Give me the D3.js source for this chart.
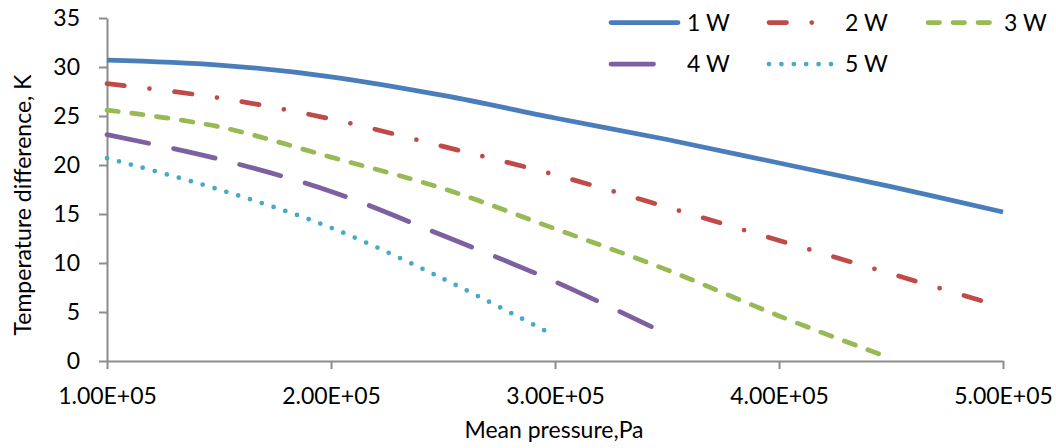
<!DOCTYPE html>
<html>
<head>
<meta charset="utf-8">
<script src="https://cdn.jsdelivr.net/npm/d3@7"></script>
<style>
  html, body { margin: 0; padding: 0; background: #fff; }
  svg { display: block; }
  text { font-family: Lato, "Open Sans", sans-serif; fill: #000; }
</style>
</head>
<body>
<svg id="chart" width="1056" height="448"></svg>
<script>
// ---- data ----
const xTicks = [1e5, 2e5, 3e5, 4e5, 5e5];
const yTicks = [0, 5, 10, 15, 20, 25, 30, 35];
const seriesNames = ["1 W", "2 W", "3 W", "4 W", "5 W"];

const p1 = [1e5, 1.5e5, 2e5, 2.5e5, 3e5, 3.5e5, 4e5, 4.5e5, 5e5];
const t1 = [30.7, 30.2, 29.0, 27.1, 24.8, 22.6, 20.2, 17.8, 15.2];

const p2 = [1e5, 1.5e5, 2e5, 2.5e5, 3e5, 3.5e5, 4e5, 4.5e5, 5e5];
const t2 = [28.3, 26.85, 24.7, 21.9, 19.0, 15.7, 12.3, 8.9, 5.5];

const p3 = [1e5, 1.5e5, 2e5, 2.5e5, 3e5, 3.5e5, 4e5, 4.46e5];
const t3 = [25.6, 23.9, 20.8, 17.6, 13.5, 9.3, 4.6, 0.6];

const p4 = [1e5, 1.5e5, 2e5, 2.5e5, 3e5, 3.43e5];
const t4 = [23.1, 20.6, 17.3, 12.8, 8.1, 3.5];

const p5 = [1e5, 1.5e5, 2e5, 2.5e5, 2.955e5];
const t5 = [20.7, 17.5, 13.6, 8.4, 3.1];

// ---- styles ----
const colors = ["#4A7EBB", "#BE4B48", "#98B954", "#7D60A0", "#46AAC5"];
const dashes = [null, "17.5 25.25 0 25.25", "11.5 13.5", "42.5 25.5", "0 12.4"];
const LW = 4.75;

const svg = d3.select("#chart");
const x = d3.scaleLinear().domain([1e5, 5e5]).range([107, 1003]);
const y = d3.scaleLinear().domain([0, 35]).range([361, 18]);

const axisColor = "#8C8C8C";
const fontSize = 23;

// x axis
const xAxis = svg.append("g").attr("transform", "translate(0,361)")
  .call(d3.axisBottom(x).tickValues(xTicks).tickSizeOuter(0).tickSizeInner(8)
        .tickFormat(d => d3.format(".2e")(d).replace("e+", "E+0").replace(/E\+0(\d\d)/, "E+$1")));
xAxis.select(".domain").attr("stroke", axisColor).attr("stroke-width", 2);
xAxis.selectAll(".tick line").attr("stroke", axisColor).attr("stroke-width", 2);
xAxis.selectAll(".tick text").attr("font-size", fontSize).attr("font-family", "Lato")
  .attr("fill", "#000").attr("y", 43).attr("dy", null);

// y axis
const yAxis = svg.append("g").attr("transform", "translate(107,0)")
  .call(d3.axisLeft(y).tickValues(yTicks).tickSizeOuter(0).tickSizeInner(8));
yAxis.select(".domain").attr("stroke", axisColor).attr("stroke-width", 2);
yAxis.selectAll(".tick line").attr("stroke", axisColor).attr("stroke-width", 2);
yAxis.selectAll(".tick text").attr("font-size", fontSize).attr("font-family", "Lato")
  .attr("fill", "#000").attr("x", -27);

// axis titles
svg.append("text").attr("x", 554).attr("y", 438).attr("text-anchor", "middle")
  .attr("font-size", fontSize).text("Mean pressure,Pa");
svg.append("text").attr("transform", "translate(31,205) rotate(-90)")
  .attr("text-anchor", "middle").attr("font-size", fontSize)
  .text("Temperature difference, K");

// series
const allP = [p1, p2, p3, p4, p5];
const allT = [t1, t2, t3, t4, t5];
const line = d3.line().x(d => x(d[0])).y(d => y(d[1])).curve(d3.curveCatmullRom.alpha(0.5));

allP.forEach((ps, i) => {
  const pts = ps.map((p, j) => [p, allT[i][j]]);
  svg.append("path").datum(pts)
    .attr("d", line)
    .attr("fill", "none")
    .attr("stroke", colors[i])
    .attr("stroke-width", LW)
    .attr("stroke-linecap", i === 0 ? "butt" : "round")
    .attr("stroke-linejoin", "round")
    .attr("stroke-dasharray", dashes[i]);
});

// legend
const legendX = [611, 769, 928, 611, 769];
const legendY = [22.5, 22.5, 22.5, 64, 64];
const lg = svg.append("g");
seriesNames.forEach((name, i) => {
  lg.append("line")
    .attr("x1", legendX[i]).attr("x2", legendX[i] + 67)
    .attr("y1", legendY[i]).attr("y2", legendY[i])
    .attr("stroke", colors[i]).attr("stroke-width", LW)
    .attr("stroke-linecap", "round")
    .attr("stroke-dasharray", dashes[i]);
  lg.append("text").attr("x", legendX[i] + 76).attr("y", legendY[i])
    .attr("dy", "0.35em").attr("font-size", fontSize).text(name);
});
</script>
</body>
</html>
